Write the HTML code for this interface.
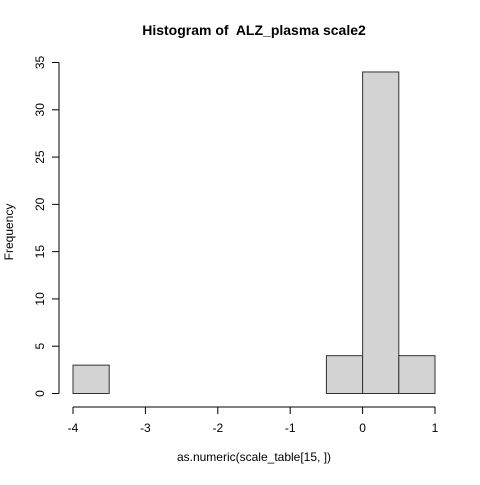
<!DOCTYPE html>
<html><head><meta charset="utf-8"><style>
body{margin:0;background:#fff}
svg{font-family:"Liberation Sans",sans-serif}
</style></head><body>
<svg width="480" height="480" id="c">
<text x="254" y="35" text-anchor="middle" font-weight="bold" font-size="14" style="white-space:pre" xml:space="preserve">Histogram of  ALZ_plasma scale2</text>
<text x="254" y="461" text-anchor="middle" font-size="12">as.numeric(scale_table[15, ])</text>
<text transform="translate(13,232) rotate(-90)" text-anchor="middle" font-size="12">Frequency</text>
<g id="bars"></g><g id="xa"></g><g id="ya"></g>
</svg>
<script>
const binStarts=[-4,-3.5,-3,-2.5,-2,-1.5,-1,-0.5,0,0.5];
const counts=[3,0,0,0,0,0,0,4,34,4];
const binWidth=0.5;
const xTicks=[-4,-3,-2,-1,0,1];
const yTicks=[0,5,10,15,20,25,30,35];
const NS="http://www.w3.org/2000/svg";
const X=v=>73+(v+4)*72.4;
const Y=v=>393.5-v*9.457;
function mk(t,a,p){const e=document.createElementNS(NS,t);for(const k in a)e.setAttribute(k,a[k]);p.appendChild(e);return e;}
const bars=document.getElementById('bars');
binStarts.forEach((b,i)=>{
 const r=mk('rect',{x:X(b),y:Y(counts[i]),width:X(b+binWidth)-X(b),height:Y(0)-Y(counts[i]),fill:'#d3d3d3',stroke:'#333','stroke-width':1},bars);
 
 
});
const xa=document.getElementById('xa');
mk('line',{x1:X(xTicks[0]),x2:X(xTicks[xTicks.length-1]),y1:407,y2:407,stroke:'#000'},xa);
xTicks.forEach(t=>{
 mk('line',{x1:X(t),x2:X(t),y1:407,y2:414,stroke:'#000'},xa);
 const tx=mk('text',{x:X(t),y:432,'text-anchor':'middle','font-size':12},xa);
 tx.textContent=t;
 
 
});
const ya=document.getElementById('ya');
mk('line',{x1:59,x2:59,y1:Y(yTicks[0]),y2:Y(yTicks[yTicks.length-1]),stroke:'#000'},ya);
yTicks.forEach(t=>{
 mk('line',{x1:52,x2:59,y1:Y(t),y2:Y(t),stroke:'#000'},ya);
 const tx=mk('text',{transform:`translate(44,${Y(t)}) rotate(-90)`,'text-anchor':'middle','font-size':12},ya);
 tx.textContent=t;
 
 
});
</script>
</body></html>
